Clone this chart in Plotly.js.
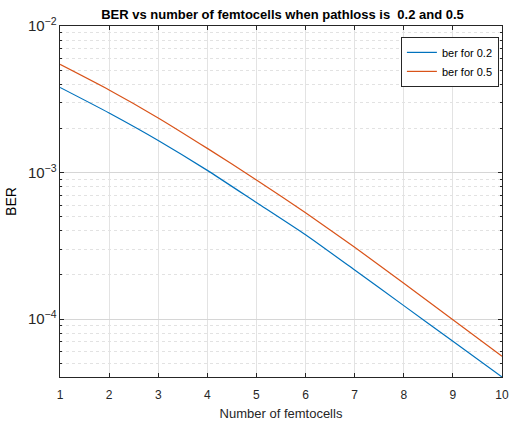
<!DOCTYPE html>
<html>
<head>
<meta charset="utf-8">
<script src="https://cdn.plot.ly/plotly-3.0.1.min.js"></script>
<style>html,body{margin:0;padding:0;background:#fff;}#chart{width:509px;height:424px;}</style>
</head>
<body>
<div id="chart"></div>
<script>
const femtocells = [1, 2, 3, 4, 5, 6, 7, 8, 9, 10];
const berPathloss02 = [3.81e-3, 2.55e-3, 1.656e-3, 1.035e-3, 6.24e-4, 3.76e-4, 2.16e-4, 1.236e-4, 7.05e-5, 4.03e-5];
const berPathloss05 = [5.47e-3, 3.66e-3, 2.36e-3, 1.462e-3, 8.91e-4, 5.31e-4, 3.09e-4, 1.754e-4, 9.91e-5, 5.57e-5];
const seriesNames = ["ber for 0.2", "ber for 0.5"];

const font = "Liberation Sans, Arial, sans-serif";
const traces = [
  {x: femtocells, y: berPathloss02, name: seriesNames[0], mode: "lines", line: {color: "#0072BD", width: 1.2, shape: "spline", smoothing: 0.5}},
  {x: femtocells, y: berPathloss05, name: seriesNames[1], mode: "lines", line: {color: "#D95319", width: 1.2, shape: "spline", smoothing: 0.5}}
];
const layout = {
  width: 509, height: 424,
  margin: {l: 60, r: 7, t: 26, b: 47},
  paper_bgcolor: "#fff", plot_bgcolor: "#fff",
  font: {family: font, size: 12, color: "#262626"},
  title: {text: "<b>BER vs number of femtocells when pathloss is  0.2 and 0.5</b>", font: {family: font, size: 13, color: "#000"}, x: 0.555, xanchor: "center", y: 0.967, yanchor: "middle"},
  xaxis: {
    range: [1, 10], dtick: 1, tick0: 1,
    showgrid: true, gridcolor: "#e3e3e3", gridwidth: 1,
    zeroline: false, showline: true, linecolor: "#262626", linewidth: 1, mirror: "ticks",
    ticks: "inside", ticklen: 4, tickcolor: "#262626", ticklabelstandoff: 7,
    tickfont: {size: 12, color: "#262626"},
    title: {text: "Number of femtocells", font: {size: 13, color: "#262626"}, standoff: 7}
  },
  yaxis: {
    type: "log", range: [-4.395, -2], dtick: 1,
    exponentformat: "power",
    showgrid: true, gridcolor: "#d6d6d6", gridwidth: 1,
    minor: {showgrid: true, gridcolor: "#e2e2e2", griddash: "dot", ticks: "inside", ticklen: 2, tickcolor: "#262626"},
    zeroline: false, showline: true, linecolor: "#262626", linewidth: 1, mirror: "ticks",
    ticks: "inside", ticklen: 4, tickcolor: "#262626",
    tickfont: {size: 12, color: "#262626"},
    title: {text: "BER", font: {size: 14, color: "#000"}, standoff: 8}
  },
  showlegend: true,
  legend: {x: 0.993, xanchor: "right", y: 0.969, yanchor: "top", bgcolor: "#fff", bordercolor: "#262626", borderwidth: 1, font: {size: 11, color: "#000"}, tracegroupgap: 0, itemwidth: 30}
};
Plotly.newPlot("chart", traces, layout, {displayModeBar: false, staticPlot: true});
</script>
</body>
</html>
